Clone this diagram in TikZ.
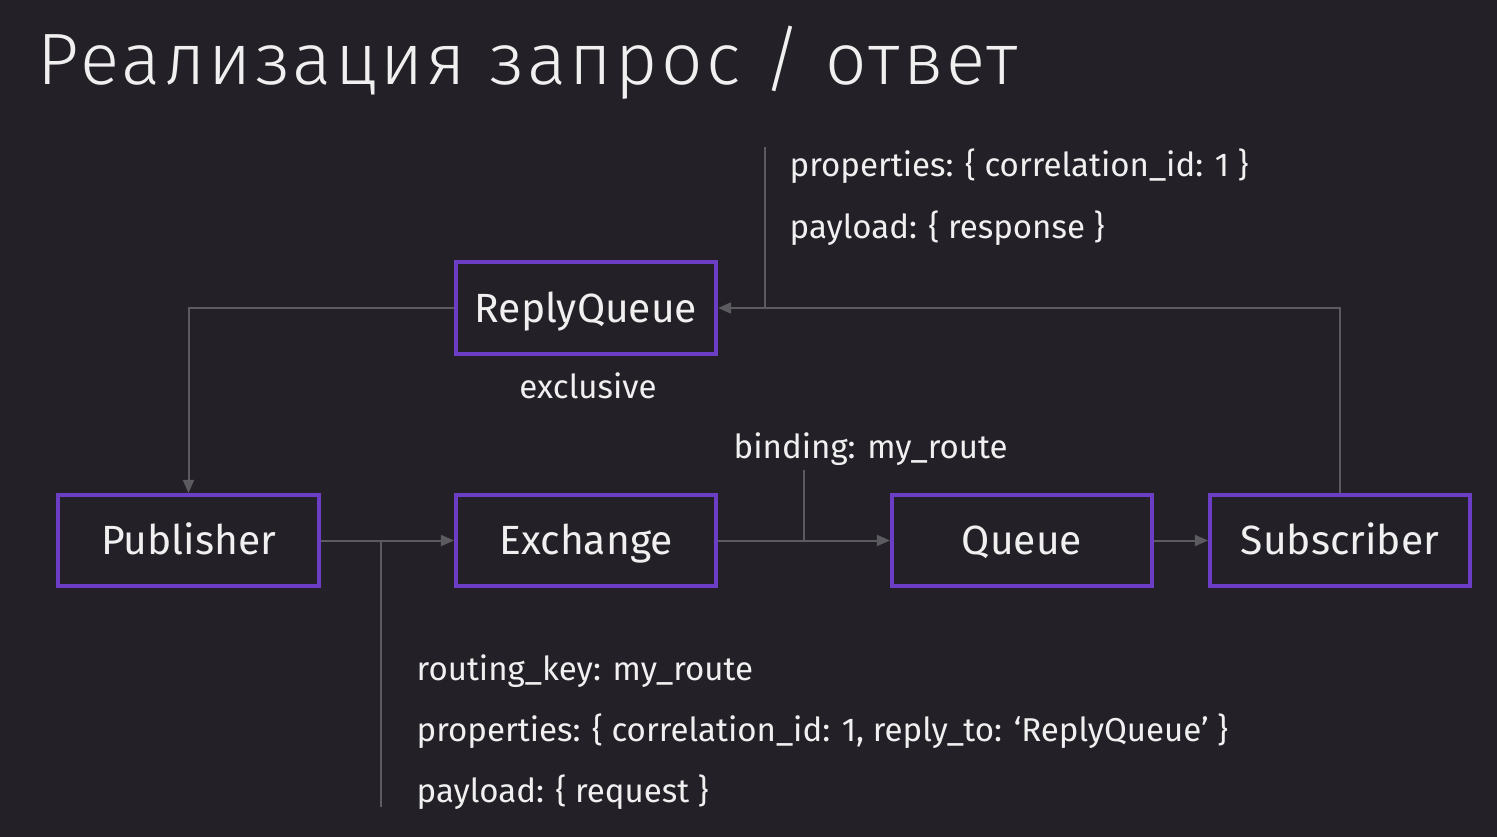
\documentclass[tikz,border=0pt]{standalone}
\usepackage{fontspec}
\setmainfont{Fira Sans}
\newfontfamily\titlefont[LetterSpace=4.5]{Fira Sans Light}
\usetikzlibrary{arrows.meta}
\definecolor{bg}{HTML}{232127}
\definecolor{boxedge}{HTML}{6C3EC6}
\definecolor{wire}{HTML}{5C5B60}
\definecolor{ink}{HTML}{F0F0F0}
\tikzset{
  comp/.style={draw=boxedge, line width=0.04cm, minimum width=2.6cm,
    minimum height=0.91cm, inner sep=0pt, text=ink,
    font=\fontsize{11.6pt}{14pt}\selectfont, text height=0.689em+1.1pt, text depth=0pt},
  wireline/.style={draw=wire, line width=0.02cm},
  flow/.style={wireline, -{Triangle[length=0.13cm, width=0.11cm]}},
  note/.style={anchor=mid west, inner sep=0pt, text=ink,
    font=\fontsize{9.4pt}{11pt}\selectfont},
}
\begin{document}
\begin{tikzpicture}[x=0.01cm, y=-0.01cm]
  \fill[bg] (0,0) rectangle (1497,837);
  \useasboundingbox (0,0) rectangle (1497,837);

  % title
  \node[anchor=base west, inner sep=0pt, text=ink,
        font=\titlefont\fontsize{20.7pt}{24pt}\selectfont]
        (title) at (37,85) {Реализация запрос / ответ};

  % components
  \node[comp] (rq)  at (586,308)   {ReplyQueue};
  \node[comp] (pub) at (188.5,540.5) {Publisher};
  \node[comp] (exc) at (586,540.5) {Exchange};
  \node[comp] (q)   at (1022,540.5) {Queue};
  \node[comp] (sub) at (1340,540.5) {Subscriber};

  % free ends of the annotation ticks
  \coordinate (pubtap) at (381,540.5);
  \coordinate (pubend) at (381,807);
  \coordinate (bindtap) at (804,540.5);
  \coordinate (bindend) at (804,470);
  \coordinate (reptap) at (765,308);
  \coordinate (repend) at (765,147);

  % message flow
  \draw[flow] (pub.east) -- (exc.west);
  \draw[flow] (exc.east) -- (q.west);
  \draw[flow] (q.east) -- (sub.west);
  \draw[flow] (sub.north) |- (rq.east);
  \draw[flow] (rq.west) -| (pub.north);

  % annotation ticks
  \draw[wireline] (pubtap) -- (pubend);
  \draw[wireline] (bindtap) -- (bindend);
  \draw[wireline] (reptap) -- (repend);

  % annotations
  \node[note] (rprops) at (789,167) {properties: \{ correlation\_id: 1 \}};
  \node[note] (rpay)   at (789,229) {payload: \{ response \}};
  \node[note, anchor=mid] (excl) at (588,389) {exclusive};
  \node[note] (bind)   at (733,449) {binding: my\_route};
  \node[note] (rkey)   at (416,671) {routing\_key: my\_route};
  \node[note] (qprops) at (416,732) {properties: \{ correlation\_id: 1, reply\_to: ‘ReplyQueue’ \}};
  \node[note] (qpay)   at (416,793) {payload: \{ request \}};
\end{tikzpicture}
\end{document}
